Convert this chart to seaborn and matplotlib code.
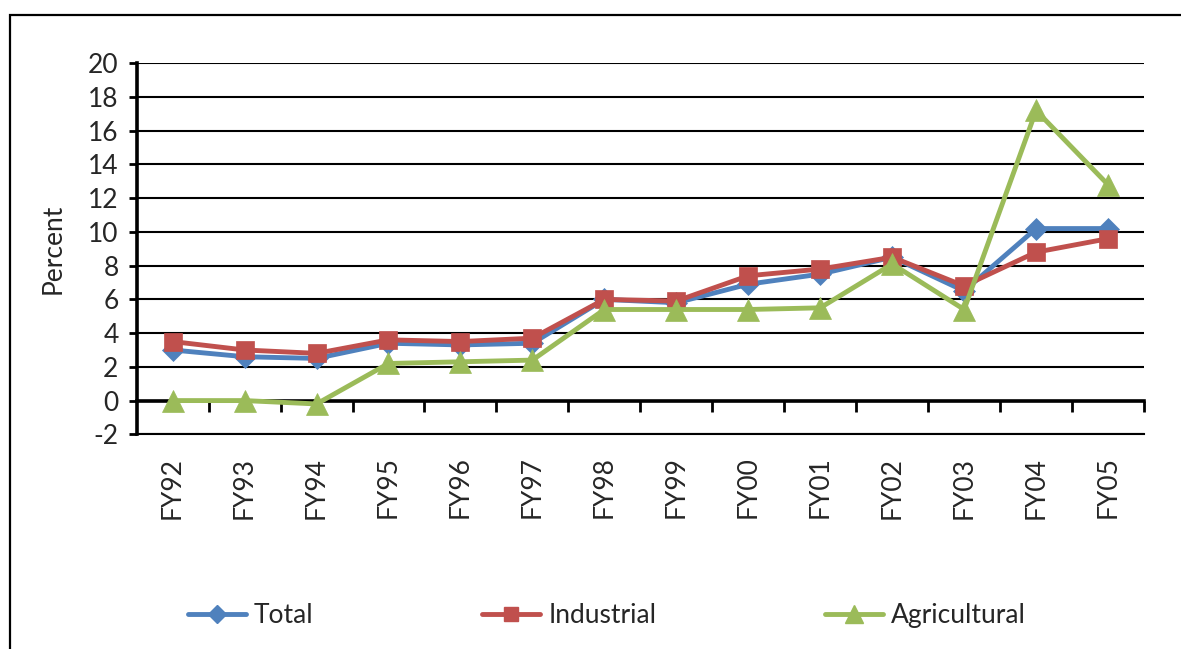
import matplotlib
matplotlib.use("Agg")
import matplotlib.pyplot as plt
from matplotlib.patches import Rectangle
from matplotlib.lines import Line2D
import seaborn as sns
import pandas as pd

# Fiscal years on the category axis
years = ["FY92", "FY93", "FY94", "FY95", "FY96", "FY97", "FY98",
         "FY99", "FY00", "FY01", "FY02", "FY03", "FY04", "FY05"]

# Growth rates, percent
total = [3.0, 2.6, 2.5, 3.4, 3.3, 3.4, 6.0, 5.8, 6.9, 7.5, 8.5, 6.5, 10.2, 10.2]
industrial = [3.5, 3.0, 2.8, 3.6, 3.5, 3.7, 6.0, 5.9, 7.4, 7.8, 8.5, 6.8, 8.8, 9.6]
agricultural = [0.0, 0.0, -0.2, 2.2, 2.3, 2.4, 5.4, 5.4, 5.4, 5.5, 8.1, 5.4, 17.2, 12.8]

series_names = ["Total", "Industrial", "Agricultural"]
yticks = list(range(-2, 21, 2))

sns.set_style("white")
plt.rcParams["font.family"] = ["Lato", "DejaVu Sans"]
FS = 19

colors = {"Total": "#4F81BD", "Industrial": "#C0504D", "Agricultural": "#9BBB59"}
markers = {"Total": "D", "Industrial": "s", "Agricultural": "^"}
msizes = {"Total": 11.5, "Industrial": 12.5, "Agricultural": 16}

df = pd.DataFrame({"year": years, "Total": total,
                   "Industrial": industrial, "Agricultural": agricultural})

fig = plt.figure(figsize=(11.81, 6.49), dpi=100)
ax = fig.add_axes([0.1157, 0.3308, 0.9687 - 0.1157, 0.9025 - 0.3308])

for name in series_names:
    sns.lineplot(data=df, x="year", y=name, ax=ax, sort=False,
                 color=colors[name], linewidth=3.5,
                 marker=markers[name], markersize=msizes[name],
                 markeredgecolor=colors[name], markeredgewidth=0.5,
                 clip_on=False, zorder=3)

ax.set_xlim(-0.5, len(years) - 0.5)
ax.set_ylim(-2, 20)
ax.set_yticks(yticks)
ax.set_yticklabels([str(v) for v in yticks], fontsize=FS)
ax.set_xticks(range(len(years)))
ax.set_xticklabels(years, rotation=90, fontsize=FS)
ax.tick_params(axis="x", length=0, pad=16)
ax.tick_params(axis="y", direction="out", length=6, width=2, color="black",
               left=True, pad=7)
ax.set_xlabel("")
ax.set_ylabel("Percent", fontsize=FS, labelpad=16)

# horizontal gridlines
ax.grid(axis="y", color="black", linewidth=1.5)
ax.grid(axis="x", visible=False)
for side in ("top", "right"):
    ax.spines[side].set_visible(False)
ax.spines["bottom"].set_linewidth(1.5)
ax.spines["bottom"].set_color("black")
ax.spines["left"].set_linewidth(2.6)
ax.spines["left"].set_color("black")

# category axis crossing at zero, with ticks between categories
zero_pos = (0 - (-2)) / 22
sec = ax.secondary_xaxis(zero_pos)
sec.set_xticks([i + 0.5 for i in range(len(years))])
sec.set_xticklabels([])
sec.tick_params(direction="out", length=8, width=2, color="black")
sec.spines["bottom"].set_linewidth(2.6)
sec.spines["bottom"].set_color("black")

handles = [Line2D([0], [0], color=colors[n], linewidth=3.5, marker=markers[n],
                  markersize=msizes[n] * 0.8, markeredgecolor=colors[n])
           for n in series_names]
fig.legend(handles, series_names, loc="center", bbox_to_anchor=(0.514, 0.052),
           ncol=3, frameon=False, fontsize=FS, handlelength=2.2,
           handletextpad=0.3, columnspacing=6.4)

# chart frame
fig.add_artist(Rectangle((10 / 1181, -0.2), 1.5, 1.2 - 15.5 / 649,
                         transform=fig.transFigure, fill=False,
                         edgecolor="black", linewidth=1.6))

fig.savefig("out.png", dpi=100)
